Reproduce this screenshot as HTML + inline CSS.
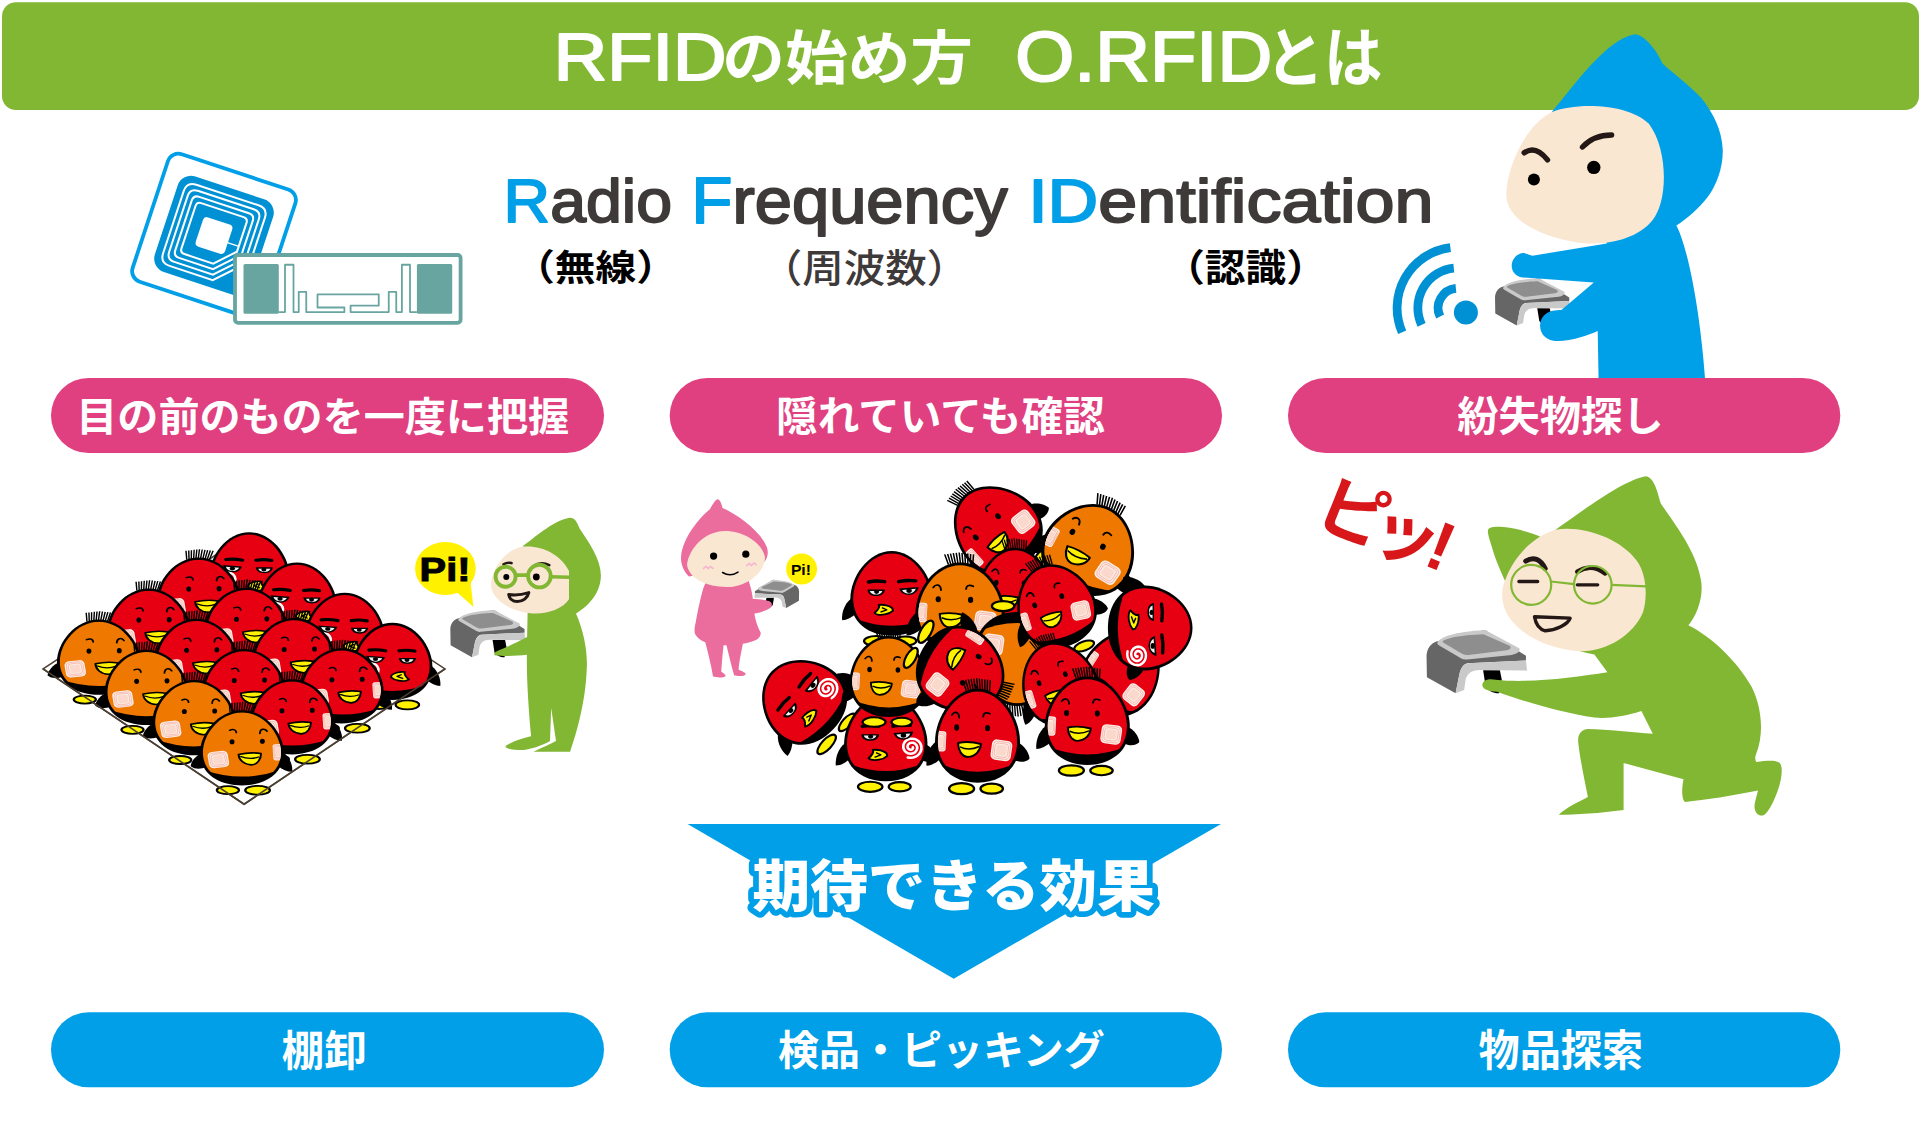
<!DOCTYPE html>
<html lang="ja"><head><meta charset="utf-8"><title>RFIDの始め方 O.RFIDとは</title>
<style>
html,body{margin:0;padding:0;background:#fff;}
body{width:1920px;height:1142px;overflow:hidden;font-family:"Liberation Sans", "Noto Sans CJK JP", sans-serif;}
svg{display:block;}
</style></head><body>
<svg width="1920" height="1142" viewBox="0 0 1920 1142">
<defs><clipPath id="eggc"><path d="M0,-47 C24,-47 42.5,-18 42.5,6 C42.5,32 24,47 0,47 C-24,47 -42.5,32 -42.5,6 C-42.5,-18 -24,-47 0,-47 Z" transform="scale(0.932,0.94)"/></clipPath><path id="tuft" d="M-14.7,-55.5 L-11.0,-44.5 M-11.9,-55.9 L-8.7,-44.5 M-9.2,-56.3 L-6.4,-44.5 M-6.5,-56.7 L-4.1,-44.5 M-3.7,-57.1 L-1.8,-44.5 M-0.9,-57.5 L0.5,-44.5 M1.8,-57.1 L2.8,-44.5 M4.5,-56.7 L5.1,-44.5 M7.3,-56.3 L7.4,-44.5 M10.0,-55.9 L9.7,-44.5 M12.8,-55.5 L12.0,-44.5 " stroke="#000" stroke-width="1.45" fill="none"/><g id="bwings"><path d="M-39,4 C-47,8 -52,20 -51,30 C-46,30 -41,27 -36,22 Z" fill="#000"/><path d="M39,6 C47,9 52,18 52,23 C48,27 42,27 36,24 Z" fill="#000"/></g><g id="bfeet"><ellipse cx="-15.9" cy="53" rx="12.5" ry="5.5" fill="#FFF100" stroke="#000" stroke-width="2.3"/><ellipse cx="14.2" cy="53" rx="11.2" ry="5" fill="#FFF100" stroke="#000" stroke-width="2.3"/></g><g id="bbody"><path d="M0,-47 C24,-47 42.5,-18 42.5,6 C42.5,32 24,47 0,47 C-24,47 -42.5,32 -42.5,6 C-42.5,-18 -24,-47 0,-47 Z" fill="#000"/><g clip-path="url(#eggc)"><path d="M-50,-60 L50,-60 L50,22 Q0,50 -50,22 Z" fill="currentColor"/></g></g><g id="bface"><g clip-path="url(#eggc)"><g transform="translate(23.9,14.6) rotate(8)"><rect x="-10.25" y="-10.25" width="20.5" height="20.5" rx="4.9" fill="#FDEDE6"/><rect x="-8.5" y="-8.5" width="17.0" height="17.0" rx="4.1" fill="none" stroke="#F3A79A" stroke-width="0.7"/><rect x="-6.8" y="-6.8" width="13.5" height="13.5" rx="3.2" fill="none" stroke="#F3A79A" stroke-width="0.7"/><rect x="-5.1" y="-5.1" width="10.2" height="10.2" rx="2.1" fill="#FAD9CC"/></g><g transform="translate(-37.5,5.5) rotate(3)"><rect x="-6.0" y="-10.25" width="12" height="20.5" rx="2.9" fill="#FDEDE6"/><rect x="-5.0" y="-8.5" width="10.0" height="17.0" rx="2.4" fill="none" stroke="#F3A79A" stroke-width="0.7"/><rect x="-4.0" y="-6.8" width="7.9" height="13.5" rx="1.9" fill="none" stroke="#F3A79A" stroke-width="0.7"/><rect x="-3.0" y="-5.1" width="6.0" height="10.2" rx="1.2" fill="#FAD9CC"/></g></g><path d="M-25.6,-20.7 C-23,-24.8 -18.5,-24 -18.2,-17.9 M5.7,-19 C6,-23.8 10,-23.2 12.5,-21.9" fill="none" stroke="#000" stroke-width="1.8" stroke-linecap="round"/><ellipse cx="-20.8" cy="-8.2" rx="2.5" ry="3.2"/><ellipse cx="10" cy="-7.6" rx="2.5" ry="3.2"/><path d="M-19.4,7.2 Q-8.5,5 3.4,8.3 C3,15 -2,21 -9.7,21.4 C-16,21 -19.4,14 -19.4,7.2 Z" fill="#FFF100" stroke="#000" stroke-width="2" stroke-linejoin="round"/><path d="M-17.6,11.2 Q-8.5,15.6 1.7,10.8" fill="none" stroke="#000" stroke-width="1.6"/><use href="#tuft"/></g><g id="sface"><path d="M-23.8,-12.6 Q-15.5,-14.5 -7.2,-12.9 M7.3,-12.9 Q16,-15 24.8,-13.8" fill="none" stroke="#000" stroke-width="3.8" stroke-linecap="round"/><path d="M-25,-4.2 L-6.8,-4.2 C-7.5,1 -11,3 -16,3 C-21,3 -24.5,1 -25,-4.2 Z" fill="#000"/><path d="M-22.5,-2.6 L-9.5,-2.6 C-10.5,0.3 -13,1.4 -16,1.4 C-19,1.4 -21.5,0.3 -22.5,-2.6 Z" fill="#f2f2f2"/><ellipse cx="-15.5" cy="-1.6" rx="2.6" ry="2.4" fill="#000"/><path d="M8,-5.3 L28,-7 C27,-1.5 23,1.5 18,1.8 C13,1.8 9,-0.5 8,-5.3 Z" fill="#000"/><path d="M10.8,-3.8 L25,-5 C24,-1.5 21,0.2 18,0.3 C15,0.3 12,-1 10.8,-3.8 Z" fill="#f2f2f2"/><ellipse cx="18" cy="-2.8" rx="2.8" ry="2.4" fill="#000"/><path d="M-17.6,21.9 C-14,19 -12,15 -13.3,13 C-8,12 -2,14 0.7,16.6 L1.5,19.3 C-1,22 -4,23 -7,23.5 C-11,24.5 -16,24 -17.6,21.9 Z" fill="#FFF100" stroke="#000" stroke-width="2" stroke-linejoin="round"/><path d="M-10,16 L-5,18.3 L-11.5,21" fill="none" stroke="#000" stroke-width="1.5" stroke-linejoin="round"/></g><g id="bplain"><g clip-path="url(#eggc)"><g transform="translate(23.9,14.6) rotate(8)"><rect x="-10.25" y="-10.25" width="20.5" height="20.5" rx="4.9" fill="#FDEDE6"/><rect x="-8.5" y="-8.5" width="17.0" height="17.0" rx="4.1" fill="none" stroke="#F3A79A" stroke-width="0.7"/><rect x="-6.8" y="-6.8" width="13.5" height="13.5" rx="3.2" fill="none" stroke="#F3A79A" stroke-width="0.7"/><rect x="-5.1" y="-5.1" width="10.2" height="10.2" rx="2.1" fill="#FAD9CC"/></g><g transform="translate(-37.5,5.5) rotate(3)"><rect x="-6.0" y="-10.25" width="12" height="20.5" rx="2.9" fill="#FDEDE6"/><rect x="-5.0" y="-8.5" width="10.0" height="17.0" rx="2.4" fill="none" stroke="#F3A79A" stroke-width="0.7"/><rect x="-4.0" y="-6.8" width="7.9" height="13.5" rx="1.9" fill="none" stroke="#F3A79A" stroke-width="0.7"/><rect x="-3.0" y="-5.1" width="6.0" height="10.2" rx="1.2" fill="#FAD9CC"/></g></g><use href="#tuft"/></g></defs>
<rect x="2" y="2.25" width="1917" height="107.75" rx="14" fill="#82B734"/>
<g transform="translate(214,235.6) rotate(18.3)"><rect x="-67.1" y="-67.1" width="134.2" height="134.2" rx="11" fill="#fff" stroke="#009FE8" stroke-width="3.8"/><rect x="-50.25" y="-50.25" width="100.5" height="100.5" rx="14" fill="#0090D4"/><path d="M-32.75,-42.75 L32.75,-42.75 Q42.75,-42.75 42.75,-32.75 L42.75,12.83 L12.83,42.75 L-32.75,42.75 Q-42.75,42.75 -42.75,32.75 L-42.75,-32.75 Q-42.75,-42.75 -32.75,-42.75 Z" fill="none" stroke="#fff" stroke-width="2"/><path d="M-29.45,-37.45 L29.45,-37.45 Q37.45,-37.45 37.45,-29.45 L37.45,11.24 L11.24,37.45 L-29.45,37.45 Q-37.45,37.45 -37.45,29.45 L-37.45,-29.45 Q-37.45,-37.45 -29.45,-37.45 Z" fill="none" stroke="#fff" stroke-width="2"/><path d="M-26.15,-32.15 L26.15,-32.15 Q32.15,-32.15 32.15,-26.15 L32.15,9.64 L9.64,32.15 L-26.15,32.15 Q-32.15,32.15 -32.15,26.15 L-32.15,-26.15 Q-32.15,-32.15 -26.15,-32.15 Z" fill="none" stroke="#fff" stroke-width="2"/><path d="M-22.35,-26.85 L22.35,-26.85 Q26.85,-26.85 26.85,-22.35 L26.85,8.06 L8.06,26.85 L-22.35,26.85 Q-26.85,26.85 -26.85,22.35 L-26.85,-22.35 Q-26.85,-26.85 -22.35,-26.85 Z" fill="none" stroke="#fff" stroke-width="2"/><rect x="-15.4" y="-15.4" width="30.8" height="30.8" rx="4" fill="#fff"/><path d="M15,2.5 L27,2.5" stroke="#fff" stroke-width="1.3"/></g><rect x="235" y="255" width="225.6" height="67.8" rx="3" fill="#fff" stroke="#68A5A1" stroke-width="3.8"/><rect x="243.5" y="264.1" width="35.3" height="49.6" rx="1.5" fill="#68A5A1"/><rect x="416.9" y="264.1" width="35.3" height="49.6" rx="1.5" fill="#68A5A1"/><polyline points="278.75,312.1 285,312.1 285,264.75 293.5,264.75 293.5,312.1 298.75,312.1 298.75,291.9 306.25,291.9 306.25,312.1 344.4,312.1 344.4,307.5 317.5,307.5 317.5,294.4 378.75,294.4 378.75,305.6 350.6,305.6 350.6,312.1 388.75,312.1 388.75,291.9 396.25,291.9 396.25,312.1 401.9,312.1 401.9,264.75 410,264.75 410,312.1 416.9,312.1" fill="none" stroke="#68A5A1" stroke-width="1.8" stroke-linejoin="round"/>
<circle cx="1465.9" cy="312.6" r="12" fill="#0090D4"/><path d="M1440.1,316.5 A19.7,19.7 0 0 1 1455.9,288.3" fill="none" stroke="#0090D4" stroke-width="8.8"/><path d="M1421.6,324.8 A39.9,39.9 0 0 1 1453.8,268.2" fill="none" stroke="#0090D4" stroke-width="8.8"/><path d="M1402.2,332.3 A60.7,60.7 0 0 1 1450.4,247.7" fill="none" stroke="#0090D4" stroke-width="8.8"/><g transform="translate(1486.4,270.7) scale(0.0556)"><path d="M915,675 L1140,675 L1165,800 L1130,985 C1060,990 980,950 950,900 Z" fill="#000"/><path d="M160,770 L155,480 C160,380 220,310 290,290 L940,135 L1490,480 L1490,545 L700,580 C640,600 610,650 590,760 L545,985 Z" fill="#666"/><path d="M300,310 C330,230 520,160 940,135 L1400,380 C1420,420 1380,450 1300,470 L700,530 C640,540 600,500 560,480 L330,345 C310,330 295,325 300,310 Z" fill="#C9C9C9"/><path d="M375,285 C400,250 600,200 920,190 L1270,345 C1300,370 1280,395 1230,405 L720,470 C680,475 650,460 620,445 L390,310 C370,300 365,295 375,285 Z" fill="#8E8E8E"/><path d="M590,760 C610,650 640,600 720,580 L1490,545 L1505,680 L870,670 C760,670 700,720 680,800 L660,940 L545,985 Z" fill="#C9C9C9"/></g><path d="M1634.3,34.3 C1643.0,34.3 1655.3,47.5 1662.5,63.4 C1673.2,73.4 1691.0,86.4 1701.7,98.4 C1713.7,113.9 1721.8,130.1 1722.7,148.9 C1723.4,165.8 1716.9,185.2 1707.5,197.2 C1699.1,207.9 1687.7,218.3 1676.4,225.4 C1687.7,246.8 1700.7,311.5 1705.6,386.1 L1598.7,386.1 L1597.7,331.0 C1587.3,335.8 1567.9,342.3 1553.3,340.7 C1542.0,339.1 1537.1,327.7 1542.0,318.0 C1546.8,309.9 1556.5,309.9 1561.4,309.9 L1593.8,282.4 L1522.5,277.5 C1509.6,275.9 1508.0,259.7 1519.3,253.9 C1524.2,251.6 1529.0,254.9 1532.3,255.8 L1606.8,243.5 L1551.7,112.3 C1574.4,84.8 1606.8,39.4 1634.3,34.6 Z" fill="#00A0E9"/><path d="M1551.7,112.3 C1574.4,102.6 1626.2,102.6 1648.9,123.7 C1668.3,149.6 1668.3,201.4 1652.1,220.8 C1635.9,240.3 1603.5,246.8 1574.4,241.9 C1535.5,235.4 1506.3,217.6 1506.3,194.9 C1506.3,172.3 1522.5,126.9 1551.7,112.3 Z" fill="#FAE7D2"/><path d="M1524.2,152.8 Q1535.5,144.7 1547.5,159.9" fill="none" stroke="#231815" stroke-width="5.4" stroke-linecap="round"/><path d="M1582.5,147.0 Q1593.8,135.0 1611.6,135.0" fill="none" stroke="#231815" stroke-width="5.4" stroke-linecap="round"/><circle cx="1533.9" cy="179.4" r="6" fill="#000"/><circle cx="1593.8" cy="167.4" r="6.7" fill="#000"/>
<rect x="51" y="378" width="553" height="75" rx="37.5" fill="#E0407F"/><rect x="51" y="1012.3" width="553" height="75" rx="37.5" fill="#009FE8"/><rect x="669.7" y="378" width="552.3" height="75" rx="37.5" fill="#E0407F"/><rect x="669.7" y="1012.3" width="552.3" height="75" rx="37.5" fill="#009FE8"/><rect x="1288" y="378" width="552.3" height="75" rx="37.5" fill="#E0407F"/><rect x="1288" y="1012.3" width="552.3" height="75" rx="37.5" fill="#009FE8"/>
<polygon points="43.1,668.9 244.1,536.3 445,668.9 244.1,804.2" fill="none" stroke="#4C4033" stroke-width="1.6"/><g transform="translate(249.3,570.8) rotate(0) scale(-0.940,0.820)" style="color:#E60012"><use href="#bwings"/><use href="#bfeet"/><use href="#bbody"/><g clip-path="url(#eggc)"><polyline transform="translate(23,11)" points="1.6,0.0 1.7,0.4 1.7,0.9 1.6,1.4 1.3,1.8 0.9,2.2 0.3,2.6 -0.3,2.7 -1.0,2.7 -1.7,2.5 -2.4,2.2 -3.0,1.6 -3.5,0.9 -3.8,0.0 -3.8,-0.9 -3.6,-1.9 -3.2,-2.8 -2.6,-3.6 -1.7,-4.3 -0.6,-4.7 0.5,-4.9 1.7,-4.8 2.9,-4.4 4.0,-3.7 4.9,-2.7 5.6,-1.5 6.0,-0.1 6.0,1.3 5.6,2.8 4.9,4.2 3.9,5.4 2.6,6.3 1.0,6.9 -0.7,7.1 -2.4,6.9 -4.1,6.3 -5.6,5.2 -6.8,3.8 -7.7,2.1 -8.1,0.3 -8.1,-1.7 -7.6,-3.7 -6.7,-5.5 -5.3,-7.1 -3.5,-8.3 -1.4,-9.1 0.8,-9.3 3.0,-9.0 5.2,-8.2 7.1,-6.8 8.7,-5.0 9.8,-2.8 10.3,-0.4 10.3,2.1 9.7,4.5 8.4,6.8 6.7,8.8 4.4,10.3 1.9,11.2 -0.8,11.5 -3.6,11.1" fill="none" stroke="#fff" stroke-width="2.7" stroke-linecap="round" stroke-linejoin="round"/></g><use href="#sface"/></g><g transform="translate(297.0,601.0) rotate(0) scale(-0.940,0.820)" style="color:#E60012"><use href="#bwings"/><use href="#bfeet"/><use href="#bbody"/><g clip-path="url(#eggc)"><polyline transform="translate(23,11)" points="1.6,0.0 1.7,0.4 1.7,0.9 1.6,1.4 1.3,1.8 0.9,2.2 0.3,2.6 -0.3,2.7 -1.0,2.7 -1.7,2.5 -2.4,2.2 -3.0,1.6 -3.5,0.9 -3.8,0.0 -3.8,-0.9 -3.6,-1.9 -3.2,-2.8 -2.6,-3.6 -1.7,-4.3 -0.6,-4.7 0.5,-4.9 1.7,-4.8 2.9,-4.4 4.0,-3.7 4.9,-2.7 5.6,-1.5 6.0,-0.1 6.0,1.3 5.6,2.8 4.9,4.2 3.9,5.4 2.6,6.3 1.0,6.9 -0.7,7.1 -2.4,6.9 -4.1,6.3 -5.6,5.2 -6.8,3.8 -7.7,2.1 -8.1,0.3 -8.1,-1.7 -7.6,-3.7 -6.7,-5.5 -5.3,-7.1 -3.5,-8.3 -1.4,-9.1 0.8,-9.3 3.0,-9.0 5.2,-8.2 7.1,-6.8 8.7,-5.0 9.8,-2.8 10.3,-0.4 10.3,2.1 9.7,4.5 8.4,6.8 6.7,8.8 4.4,10.3 1.9,11.2 -0.8,11.5 -3.6,11.1" fill="none" stroke="#fff" stroke-width="2.7" stroke-linecap="round" stroke-linejoin="round"/></g><use href="#sface"/></g><g transform="translate(198.6,595.2) rotate(0) scale(-0.985,0.800)" style="color:#E60012"><use href="#bwings"/><use href="#bfeet"/><use href="#bbody"/><use href="#bface"/></g><g transform="translate(344.7,631.2) rotate(0) scale(-0.940,0.820)" style="color:#E60012"><use href="#bwings"/><use href="#bfeet"/><use href="#bbody"/><g clip-path="url(#eggc)"><polyline transform="translate(23,11)" points="1.6,0.0 1.7,0.4 1.7,0.9 1.6,1.4 1.3,1.8 0.9,2.2 0.3,2.6 -0.3,2.7 -1.0,2.7 -1.7,2.5 -2.4,2.2 -3.0,1.6 -3.5,0.9 -3.8,0.0 -3.8,-0.9 -3.6,-1.9 -3.2,-2.8 -2.6,-3.6 -1.7,-4.3 -0.6,-4.7 0.5,-4.9 1.7,-4.8 2.9,-4.4 4.0,-3.7 4.9,-2.7 5.6,-1.5 6.0,-0.1 6.0,1.3 5.6,2.8 4.9,4.2 3.9,5.4 2.6,6.3 1.0,6.9 -0.7,7.1 -2.4,6.9 -4.1,6.3 -5.6,5.2 -6.8,3.8 -7.7,2.1 -8.1,0.3 -8.1,-1.7 -7.6,-3.7 -6.7,-5.5 -5.3,-7.1 -3.5,-8.3 -1.4,-9.1 0.8,-9.3 3.0,-9.0 5.2,-8.2 7.1,-6.8 8.7,-5.0 9.8,-2.8 10.3,-0.4 10.3,2.1 9.7,4.5 8.4,6.8 6.7,8.8 4.4,10.3 1.9,11.2 -0.8,11.5 -3.6,11.1" fill="none" stroke="#fff" stroke-width="2.7" stroke-linecap="round" stroke-linejoin="round"/></g><use href="#sface"/></g><g transform="translate(246.3,625.4) rotate(0) scale(-0.985,0.800)" style="color:#E60012"><use href="#bwings"/><use href="#bfeet"/><use href="#bbody"/><use href="#bface"/></g><g transform="translate(148.7,626.2) rotate(0) scale(-0.985,0.800)" style="color:#E60012"><use href="#bwings"/><use href="#bfeet"/><use href="#bbody"/><use href="#bface"/></g><g transform="translate(392.4,661.4) rotate(0) scale(-0.940,0.820)" style="color:#E60012"><use href="#bwings"/><use href="#bfeet"/><use href="#bbody"/><g clip-path="url(#eggc)"><polyline transform="translate(23,11)" points="1.6,0.0 1.7,0.4 1.7,0.9 1.6,1.4 1.3,1.8 0.9,2.2 0.3,2.6 -0.3,2.7 -1.0,2.7 -1.7,2.5 -2.4,2.2 -3.0,1.6 -3.5,0.9 -3.8,0.0 -3.8,-0.9 -3.6,-1.9 -3.2,-2.8 -2.6,-3.6 -1.7,-4.3 -0.6,-4.7 0.5,-4.9 1.7,-4.8 2.9,-4.4 4.0,-3.7 4.9,-2.7 5.6,-1.5 6.0,-0.1 6.0,1.3 5.6,2.8 4.9,4.2 3.9,5.4 2.6,6.3 1.0,6.9 -0.7,7.1 -2.4,6.9 -4.1,6.3 -5.6,5.2 -6.8,3.8 -7.7,2.1 -8.1,0.3 -8.1,-1.7 -7.6,-3.7 -6.7,-5.5 -5.3,-7.1 -3.5,-8.3 -1.4,-9.1 0.8,-9.3 3.0,-9.0 5.2,-8.2 7.1,-6.8 8.7,-5.0 9.8,-2.8 10.3,-0.4 10.3,2.1 9.7,4.5 8.4,6.8 6.7,8.8 4.4,10.3 1.9,11.2 -0.8,11.5 -3.6,11.1" fill="none" stroke="#fff" stroke-width="2.7" stroke-linecap="round" stroke-linejoin="round"/></g><use href="#sface"/></g><g transform="translate(294.0,655.6) rotate(0) scale(-0.985,0.800)" style="color:#E60012"><use href="#bwings"/><use href="#bfeet"/><use href="#bbody"/><use href="#bface"/></g><g transform="translate(196.4,656.4) rotate(0) scale(-0.985,0.800)" style="color:#E60012"><use href="#bwings"/><use href="#bfeet"/><use href="#bbody"/><use href="#bface"/></g><g transform="translate(98.8,657.2) rotate(0) scale(-0.985,0.800)" style="color:#EE7800"><use href="#bwings"/><use href="#bfeet"/><use href="#bbody"/><use href="#bface"/></g><g transform="translate(341.7,685.8) rotate(0) scale(-0.985,0.800)" style="color:#E60012"><use href="#bwings"/><use href="#bfeet"/><use href="#bbody"/><use href="#bface"/></g><g transform="translate(244.1,686.6) rotate(0) scale(-0.985,0.800)" style="color:#E60012"><use href="#bwings"/><use href="#bfeet"/><use href="#bbody"/><use href="#bface"/></g><g transform="translate(146.5,687.4) rotate(0) scale(-0.985,0.800)" style="color:#EE7800"><use href="#bwings"/><use href="#bfeet"/><use href="#bbody"/><use href="#bface"/></g><g transform="translate(291.8,716.8) rotate(0) scale(-0.985,0.800)" style="color:#E60012"><use href="#bwings"/><use href="#bfeet"/><use href="#bbody"/><use href="#bface"/></g><g transform="translate(194.2,717.6) rotate(0) scale(-0.985,0.800)" style="color:#EE7800"><use href="#bwings"/><use href="#bfeet"/><use href="#bbody"/><use href="#bface"/></g><g transform="translate(241.9,747.8) rotate(0) scale(-0.985,0.800)" style="color:#EE7800"><use href="#bwings"/><use href="#bfeet"/><use href="#bbody"/><use href="#bface"/></g><polyline points="43.1,668.9 244.1,804.2 445,668.9" fill="none" stroke="#4C4033" stroke-width="1.6"/><path d="M455.5,591.0 L473.3,606.8 L470.4,580.3 Z" fill="#FFF100"/><ellipse cx="445.4" cy="568.5" rx="30.3" ry="26.6" fill="#FFF100"/><g transform="translate(441.7,602.4) scale(0.0556)"><path d="M915,675 L1140,675 L1165,800 L1130,985 C1060,990 980,950 950,900 Z" fill="#000"/><path d="M160,770 L155,480 C160,380 220,310 290,290 L940,135 L1490,480 L1490,545 L700,580 C640,600 610,650 590,760 L545,985 Z" fill="#666"/><path d="M300,310 C330,230 520,160 940,135 L1400,380 C1420,420 1380,450 1300,470 L700,530 C640,540 600,500 560,480 L330,345 C310,330 295,325 300,310 Z" fill="#C9C9C9"/><path d="M375,285 C400,250 600,200 920,190 L1270,345 C1300,370 1280,395 1230,405 L720,470 C680,475 650,460 620,445 L390,310 C370,300 365,295 375,285 Z" fill="#8E8E8E"/><path d="M590,760 C610,650 640,600 720,580 L1490,545 L1505,680 L870,670 C760,670 700,720 680,800 L660,940 L545,985 Z" fill="#C9C9C9"/></g><path d="M570.1,517.7 C574.9,517.7 577.2,522.4 579.6,528.4 C589.0,542.5 600.9,559.1 600.9,575.6 C600.9,592.2 589.0,606.3 576.0,613.4 C584.3,632.3 587.9,653.6 586.7,670.1 C585.5,700.9 577.2,731.6 570.1,751.7 L533.5,751.7 C541.8,748.1 551.2,743.4 556.0,741.0 L551.2,707.9 L550.0,741.0 C541.8,745.7 527.6,750.9 518.1,750.0 C508.7,749.3 504.0,747.6 505.9,745.7 C513.4,741.0 525.2,737.5 531.1,736.3 C528.8,712.7 526.4,677.2 526.9,654.8 C518.1,656.0 504.0,656.4 495.7,655.5 C493.3,654.8 494.0,652.4 496.9,651.2 C506.3,647.7 518.1,641.8 527.1,637.1 L527.6,613.4 L522.9,546.1 C537.1,535.4 556.0,518.9 570.1,517.7 Z" fill="#82B734"/><path d="M522.9,546.6 C541.8,544.9 560.7,554.3 569.0,570.9 L569.0,599.2 C563.0,608.7 546.5,614.6 532.3,613.4 C511.1,612.2 491.0,599.2 491.0,585.1 C491.0,570.9 504.0,549.6 522.9,546.6 Z" fill="#FAE7D2"/><path d="M503.5,564.3 Q507.5,561.9 511.5,563.1" fill="none" stroke="#231815" stroke-width="2.6" stroke-linecap="round"/><path d="M533.0,566.6 Q540.6,561.0 549.3,565.2" fill="none" stroke="#231815" stroke-width="2.6" stroke-linecap="round"/><circle cx="506.3" cy="577.0" r="3" fill="#000"/><circle cx="536.3" cy="577.0" r="3.4" fill="#000"/><circle cx="505.6" cy="576.8" r="10" fill="none" stroke="#82B734" stroke-width="3.9"/><circle cx="539.4" cy="576.1" r="11.3" fill="none" stroke="#82B734" stroke-width="3.9"/><path d="M515.8,575.1 L528.1,575.1 M550.8,576.8 L569.2,577.3" fill="none" stroke="#82B734" stroke-width="3.6"/><path d="M508.7,594.5 C515.8,595.7 522.9,594.5 528.8,592.6 C527.6,598.1 522.9,601.6 517.4,601.6 C512.2,601.6 509.2,598.1 508.7,594.5 Z" fill="#FAE7D2" stroke="#231815" stroke-width="3" stroke-linejoin="round"/>
<g transform="translate(996.2,528.5) rotate(-45) scale(1.000,0.980)" style="color:#E60012"><use href="#bwings"/><use href="#bfeet"/><use href="#bbody"/><use href="#bface"/></g><g transform="translate(1015.0,590.1) rotate(0) scale(0.900,0.900)" style="color:#E60012"><use href="#bwings"/><use href="#bfeet"/><use href="#bbody"/><use href="#bface"/></g><g transform="translate(1089.8,548.8) rotate(25) scale(1.100,0.970)" style="color:#EE7800"><use href="#bwings"/><use href="#bfeet"/><use href="#bbody"/><use href="#bface"/></g><g transform="translate(891.6,593.3) rotate(0) scale(0.970,0.900)" style="color:#E60012"><use href="#bwings"/><use href="#bfeet"/><use href="#bbody"/><use href="#sface"/></g><g transform="translate(960.1,607.1) rotate(0) scale(1.050,0.950)" style="color:#EE7800"><use href="#bwings"/><use href="#bfeet"/><use href="#bbody"/><use href="#bface"/></g><g transform="translate(1017.3,659.1) rotate(180) scale(1.000,1.000)" style="color:#EE7800"><use href="#bwings"/><use href="#bfeet"/><use href="#bbody"/><use href="#bplain"/></g><g transform="translate(1055.4,605.7) rotate(-20) scale(0.930,0.900)" style="color:#E60012"><use href="#bwings"/><use href="#bfeet"/><use href="#bbody"/><use href="#bface"/></g><g transform="translate(1122.0,672.0) rotate(30) scale(0.900,0.950)" style="color:#E60012"><use href="#bbody"/><use href="#bplain"/></g><g transform="translate(1150.2,627.9) rotate(90) scale(1.000,0.900)" style="color:#E60012"><use href="#bwings"/><use href="#bbody"/><g clip-path="url(#eggc)"><polyline transform="translate(27,14)" points="1.6,0.0 1.7,0.4 1.7,0.9 1.6,1.4 1.3,1.8 0.9,2.2 0.3,2.6 -0.3,2.7 -1.0,2.7 -1.7,2.5 -2.4,2.2 -3.0,1.6 -3.5,0.9 -3.8,0.0 -3.8,-0.9 -3.6,-1.9 -3.2,-2.8 -2.6,-3.6 -1.7,-4.3 -0.6,-4.7 0.5,-4.9 1.7,-4.8 2.9,-4.4 4.0,-3.7 4.9,-2.7 5.6,-1.5 6.0,-0.1 6.0,1.3 5.6,2.8 4.9,4.2 3.9,5.4 2.6,6.3 1.0,6.9 -0.7,7.1 -2.4,6.9 -4.1,6.3 -5.6,5.2 -6.8,3.8 -7.7,2.1 -8.1,0.3 -8.1,-1.7 -7.6,-3.7 -6.7,-5.5 -5.3,-7.1 -3.5,-8.3 -1.4,-9.1 0.8,-9.3 3.0,-9.0 5.2,-8.2 7.1,-6.8 8.7,-5.0 9.8,-2.8 10.3,-0.4 10.3,2.1 9.7,4.5 8.4,6.8 6.7,8.8 4.4,10.3 1.9,11.2 -0.8,11.5 -3.6,11.1" fill="none" stroke="#fff" stroke-width="2.7" stroke-linecap="round" stroke-linejoin="round"/></g><use href="#sface"/></g><g transform="translate(802.6,700.2) rotate(-47) scale(1.000,0.900)" style="color:#E60012"><use href="#bwings"/><use href="#bfeet"/><use href="#bbody"/><g clip-path="url(#eggc)"><polyline transform="translate(25,11)" points="1.6,0.0 1.7,0.4 1.7,0.9 1.6,1.4 1.3,1.8 0.9,2.2 0.3,2.6 -0.3,2.7 -1.0,2.7 -1.7,2.5 -2.4,2.2 -3.0,1.6 -3.5,0.9 -3.8,0.0 -3.8,-0.9 -3.6,-1.9 -3.2,-2.8 -2.6,-3.6 -1.7,-4.3 -0.6,-4.7 0.5,-4.9 1.7,-4.8 2.9,-4.4 4.0,-3.7 4.9,-2.7 5.6,-1.5 6.0,-0.1 6.0,1.3 5.6,2.8 4.9,4.2 3.9,5.4 2.6,6.3 1.0,6.9 -0.7,7.1 -2.4,6.9 -4.1,6.3 -5.6,5.2 -6.8,3.8 -7.7,2.1 -8.1,0.3 -8.1,-1.7 -7.6,-3.7 -6.7,-5.5 -5.3,-7.1 -3.5,-8.3 -1.4,-9.1 0.8,-9.3 3.0,-9.0 5.2,-8.2 7.1,-6.8 8.7,-5.0 9.8,-2.8 10.3,-0.4 10.3,2.1 9.7,4.5 8.4,6.8 6.7,8.8 4.4,10.3 1.9,11.2 -0.8,11.5 -3.6,11.1" fill="none" stroke="#fff" stroke-width="2.7" stroke-linecap="round" stroke-linejoin="round"/></g><use href="#sface"/></g><g transform="translate(885.8,738.0) rotate(0) scale(0.980,0.920)" style="color:#E60012"><use href="#bwings"/><use href="#bfeet"/><use href="#bbody"/><g clip-path="url(#eggc)"><polyline transform="translate(26,10)" points="1.6,0.0 1.7,0.4 1.7,0.9 1.6,1.4 1.3,1.8 0.9,2.2 0.3,2.6 -0.3,2.7 -1.0,2.7 -1.7,2.5 -2.4,2.2 -3.0,1.6 -3.5,0.9 -3.8,0.0 -3.8,-0.9 -3.6,-1.9 -3.2,-2.8 -2.6,-3.6 -1.7,-4.3 -0.6,-4.7 0.5,-4.9 1.7,-4.8 2.9,-4.4 4.0,-3.7 4.9,-2.7 5.6,-1.5 6.0,-0.1 6.0,1.3 5.6,2.8 4.9,4.2 3.9,5.4 2.6,6.3 1.0,6.9 -0.7,7.1 -2.4,6.9 -4.1,6.3 -5.6,5.2 -6.8,3.8 -7.7,2.1 -8.1,0.3 -8.1,-1.7 -7.6,-3.7 -6.7,-5.5 -5.3,-7.1 -3.5,-8.3 -1.4,-9.1 0.8,-9.3 3.0,-9.0 5.2,-8.2 7.1,-6.8 8.7,-5.0 9.8,-2.8 10.3,-0.4 10.3,2.1 9.7,4.5 8.4,6.8 6.7,8.8 4.4,10.3 1.9,11.2 -0.8,11.5 -3.6,11.1" fill="none" stroke="#fff" stroke-width="2.7" stroke-linecap="round" stroke-linejoin="round"/></g><use href="#sface"/></g><g transform="translate(888.7,676.5) rotate(0) scale(0.920,0.860)" style="color:#EE7800"><use href="#bwings"/><use href="#bfeet"/><use href="#bbody"/><use href="#bface"/></g><g transform="translate(961.5,670.7) rotate(120) scale(1.000,0.950)" style="color:#E60012"><use href="#bwings"/><use href="#bfeet"/><use href="#bbody"/><use href="#bface"/></g><g transform="translate(1059.2,683.7) rotate(-20) scale(0.900,0.900)" style="color:#E60012"><use href="#bwings"/><use href="#bfeet"/><use href="#bbody"/><use href="#bface"/></g><g transform="translate(1087.3,720.7) rotate(0) scale(1.000,0.940)" style="color:#E60012"><use href="#bwings"/><use href="#bfeet"/><use href="#bbody"/><use href="#bface"/></g><g transform="translate(977.5,735.7) rotate(0) scale(1.000,1.000)" style="color:#E60012"><use href="#bwings"/><use href="#bfeet"/><use href="#bbody"/><use href="#bface"/></g><circle cx="801.6" cy="569.0" r="15.4" fill="#FFF100"/><g transform="translate(804.23,575.3) scale(-0.0331,0.0331)"><path d="M915,675 L1140,675 L1165,800 L1130,985 C1060,990 980,950 950,900 Z" fill="#000"/><path d="M160,770 L155,480 C160,380 220,310 290,290 L940,135 L1490,480 L1490,545 L700,580 C640,600 610,650 590,760 L545,985 Z" fill="#666"/><path d="M300,310 C330,230 520,160 940,135 L1400,380 C1420,420 1380,450 1300,470 L700,530 C640,540 600,500 560,480 L330,345 C310,330 295,325 300,310 Z" fill="#C9C9C9"/><path d="M375,285 C400,250 600,200 920,190 L1270,345 C1300,370 1280,395 1230,405 L720,470 C680,475 650,460 620,445 L390,310 C370,300 365,295 375,285 Z" fill="#8E8E8E"/><path d="M590,760 C610,650 640,600 720,580 L1490,545 L1505,680 L870,670 C760,670 700,720 680,800 L660,940 L545,985 Z" fill="#C9C9C9"/></g><path d="M703.4,587.9 L709.1,574.4 L746.7,572.5 L749.6,584.1 C751.5,589.8 752.5,595.6 752.9,599.1 C758.3,599.1 765.0,599.9 768.9,601.0 C772.7,602.4 772.7,606.2 769.8,608.2 C765.0,611.0 758.3,613.0 754.4,613.4 C755.4,620.7 758.3,628.4 760.6,632.2 C761.2,636.1 758.3,639.0 755.4,640.3 C750.6,642.3 746.7,643.4 742.9,643.8 C740.9,653.4 739.0,663.1 738.6,669.8 C741.9,671.2 745.8,672.7 745.8,674.3 C744.8,676.6 737.1,676.2 734.2,675.6 C731.3,665.0 728.4,653.4 726.5,645.3 L723.6,645.3 C722.6,653.4 721.7,665.0 721.3,671.8 C723.6,673.1 725.9,674.6 725.5,676.2 C723.6,678.1 715.9,677.5 713.0,676.6 C711.1,665.0 708.2,653.4 705.3,642.3 C701.4,640.9 697.6,638.4 695.7,635.1 C693.7,632.2 694.7,626.5 695.7,622.6 C697.6,611.0 700.5,597.6 703.4,587.9 Z" fill="#EA6D9D"/><path d="M717.8,499.3 C719.7,499.3 721.3,503.1 722.6,507.9 C737.1,514.7 760.2,530.1 767.0,547.5 C768.9,554.2 767.0,559.0 764.1,561.9 L688.9,576.4 C683.1,570.6 680.2,562.9 681.2,555.2 C683.1,537.8 698.5,518.5 710.1,508.9 C713.0,504.1 715.5,499.3 717.8,499.3 Z" fill="#EA6D9D"/><path d="M687.0,564.8 C688.9,547.5 706.3,531.1 724.6,531.1 C744.8,531.1 762.1,543.6 765.0,557.1 C765.0,572.5 746.7,587.0 726.5,587.0 C706.3,587.0 688.9,578.3 687.0,564.8 Z" fill="#FAE7D2"/><circle cx="713.6" cy="556.1" r="3.6" fill="#000"/><circle cx="745.8" cy="554.2" r="3.6" fill="#000"/><path d="M722.6,572.5 Q730.3,577.3 738.0,572.1" fill="none" stroke="#000" stroke-width="1.6" stroke-linecap="round"/><path d="M703.4,568.6 L705.9,566.3 L708.2,568.6 L710.5,566.3 L713.0,568.3" fill="none" stroke="#F5B5D0" stroke-width="1.5" stroke-linecap="round" stroke-linejoin="round"/><path d="M746.7,565.8 L749.2,563.3 L751.5,565.6 L753.9,562.9 L756.4,564.8" fill="none" stroke="#F5B5D0" stroke-width="1.5" stroke-linecap="round" stroke-linejoin="round"/>
<g transform="translate(1415,620) scale(0.07446)"><path d="M915,675 L1140,675 L1165,800 L1130,985 C1060,990 980,950 950,900 Z" fill="#000"/><path d="M160,770 L155,480 C160,380 220,310 290,290 L940,135 L1490,480 L1490,545 L700,580 C640,600 610,650 590,760 L545,985 Z" fill="#666"/><path d="M300,310 C330,230 520,160 940,135 L1400,380 C1420,420 1380,450 1300,470 L700,530 C640,540 600,500 560,480 L330,345 C310,330 295,325 300,310 Z" fill="#C9C9C9"/><path d="M375,285 C400,250 600,200 920,190 L1270,345 C1300,370 1280,395 1230,405 L720,470 C680,475 650,460 620,445 L390,310 C370,300 365,295 375,285 Z" fill="#8E8E8E"/><path d="M590,760 C610,650 640,600 720,580 L1490,545 L1505,680 L870,670 C760,670 700,720 680,800 L660,940 L545,985 Z" fill="#C9C9C9"/></g><path d="M1646.3,476.2 C1654.4,477.8 1657.6,492.4 1660.9,503.7 C1675.4,524.8 1698.1,554.0 1701.4,583.1 C1703.0,599.3 1696.5,615.5 1688.4,625.3 C1711.1,636.6 1737.0,660.9 1751.6,686.8 C1761.3,706.3 1764.5,732.2 1756.4,753.3 C1754.8,756.5 1754.8,759.7 1756.4,762.0 C1766.2,760.7 1775.9,759.7 1779.8,763.0 C1784.0,767.8 1780.8,784.0 1775.9,795.4 C1772.7,803.5 1767.8,813.2 1762.9,815.5 C1758.1,816.4 1753.2,811.6 1754.8,803.5 C1755.8,798.6 1757.1,793.8 1758.1,790.5 C1733.8,795.4 1704.6,800.2 1685.2,801.9 C1681.9,800.2 1681.3,790.5 1683.5,779.2 L1623.6,763.0 L1623.6,810.0 C1600.9,813.2 1575.0,814.8 1558.8,814.8 C1565.3,808.3 1578.2,801.9 1587.9,797.0 C1584.7,780.8 1579.8,758.1 1578.2,741.9 C1577.6,733.8 1581.5,729.6 1587.9,729.0 C1607.4,729.6 1633.3,732.2 1652.8,733.8 L1641.4,711.1 C1626.8,716.0 1607.4,719.2 1594.4,717.6 C1562.0,712.8 1523.1,701.4 1497.2,691.7 C1487.5,691.7 1481.0,688.5 1482.6,683.6 C1484.3,678.7 1490.7,678.7 1495.6,679.7 C1529.6,683.6 1575.0,677.1 1607.4,672.2 L1594.4,654.4 C1575.0,651.2 1552.3,641.5 1539.3,631.7 L1506.9,584.8 C1503.0,576.7 1497.2,563.7 1494.0,554.0 C1490.7,542.6 1486.8,532.9 1488.1,529.7 C1489.4,526.4 1497.2,526.4 1503.7,527.1 C1518.3,528.7 1531.2,532.9 1542.6,537.8 L1555.5,529.7 C1581.5,511.8 1623.6,479.4 1646.3,476.2 Z" fill="#82B734"/><path d="M1555.5,529.7 C1581.5,524.8 1620.3,537.8 1636.6,560.5 C1646.3,573.4 1647.9,596.1 1643.0,612.3 C1633.3,635.0 1607.4,651.2 1581.5,651.2 C1552.3,650.5 1523.1,636.6 1510.2,618.8 C1500.5,605.8 1500.5,589.6 1505.3,579.9 C1513.4,557.2 1532.9,536.2 1555.5,529.7 Z" fill="#FAE7D2"/><path d="M1525.7,561.1 Q1537.7,554.0 1545.2,568.6" fill="none" stroke="#231815" stroke-width="5" stroke-linecap="round"/><path d="M1577.3,571.8 Q1591.2,563.0 1605.1,573.4" fill="none" stroke="#231815" stroke-width="4.6" stroke-linecap="round"/><path d="M1518.9,581.5 L1537.7,581.5 M1577.3,584.8 L1597.7,584.8" fill="none" stroke="#231815" stroke-width="3.3" stroke-linecap="round"/><circle cx="1531.2" cy="584.8" r="20" fill="none" stroke="#82B734" stroke-width="2.2"/><circle cx="1592.8" cy="584.8" r="18.8" fill="none" stroke="#82B734" stroke-width="2.2"/><path d="M1551.0,581.5 L1574.0,584.1 M1611.6,584.8 L1646.3,586.4" fill="none" stroke="#82B734" stroke-width="2.2"/><path d="M1534.5,616.8 L1570.1,618.1 C1567.9,624.6 1555.5,630.4 1545.2,630.8 C1538.7,629.2 1535.5,622.7 1534.5,616.8 Z" fill="#FAE7D2" stroke="#231815" stroke-width="3.4" stroke-linejoin="round"/><text transform="translate(1312,523) rotate(22)" font-size="69" font-family='"Liberation Sans", "Noto Sans CJK JP", sans-serif' font-weight="700" fill="#D7171A">ピ<tspan dx="-12">ッ</tspan><tspan dx="-9" dy="-3">!</tspan></text>
<polygon points="687.5,824 1221,824 953.75,978.75" fill="#009FE8"/>
<text transform="translate(553.82,80.33) scale(0.7399,0.6667)" font-size="100" font-family='"Liberation Sans", "Noto Sans CJK JP", sans-serif' font-weight="400" fill="#fff" stroke="#fff" stroke-width="3" stroke-linejoin="round">RFID</text>
<text transform="translate(722.24,79.17) scale(0.6272,0.5833)" font-size="100" font-family='"Liberation Sans", "Noto Sans CJK JP", sans-serif' font-weight="700" fill="#fff" >の始め方</text>
<text transform="translate(1015.23,81.09) scale(0.7583,0.7055)" font-size="100" font-family='"Liberation Sans", "Noto Sans CJK JP", sans-serif' font-weight="400" fill="#fff" stroke="#fff" stroke-width="3" stroke-linejoin="round">O.RFID</text>
<text transform="translate(1265.48,80.51) scale(0.5843,0.6471)" font-size="100" font-family='"Liberation Sans", "Noto Sans CJK JP", sans-serif' font-weight="700" fill="#fff" >とは</text>
<text transform="translate(503.59,222.48) scale(0.6448,0.6112)" font-size="100" font-family='"Liberation Sans", "Noto Sans CJK JP", sans-serif' font-weight="400" fill="#3E3A39" stroke="#3E3A39" stroke-width="3" stroke-linejoin="round"><tspan fill="#009FE8" stroke="#009FE8">R</tspan>adio</text>
<text transform="translate(691.57,223.10) scale(0.6692,0.6550)" font-size="100" font-family='"Liberation Sans", "Noto Sans CJK JP", sans-serif' font-weight="400" fill="#3E3A39" stroke="#3E3A39" stroke-width="3" stroke-linejoin="round"><tspan fill="#009FE8" stroke="#009FE8">F</tspan>requency</text>
<text transform="translate(1028.14,222.48) scale(0.7013,0.6112)" font-size="100" font-family='"Liberation Sans", "Noto Sans CJK JP", sans-serif' font-weight="400" fill="#3E3A39" stroke="#3E3A39" stroke-width="3" stroke-linejoin="round"><tspan fill="#009FE8" stroke="#009FE8">ID</tspan>entification</text>
<text transform="translate(514.16,281.35) scale(0.4067,0.3646)" font-size="100" font-family='"Liberation Sans", "Noto Sans CJK JP", sans-serif' font-weight="700" fill="#000" >（無線）</text>
<text transform="translate(760.79,282.11) scale(0.4148,0.3895)" font-size="100" font-family='"Liberation Sans", "Noto Sans CJK JP", sans-serif' font-weight="500" fill="#3E3A39" >（周波数）</text>
<text transform="translate(1164.16,281.25) scale(0.4067,0.3750)" font-size="100" font-family='"Liberation Sans", "Noto Sans CJK JP", sans-serif' font-weight="700" fill="#000" >（認識）</text>
<text transform="translate(76.25,431.00) scale(0.4108,0.4000)" font-size="100" font-family='"Liberation Sans", "Noto Sans CJK JP", sans-serif' font-weight="700" fill="#fff" >目の前のものを一度に把握</text>
<text transform="translate(776.08,431.36) scale(0.4167,0.4043)" font-size="100" font-family='"Liberation Sans", "Noto Sans CJK JP", sans-serif' font-weight="700" fill="#fff" >隠れていても確認</text>
<text transform="translate(1457.17,431.36) scale(0.4131,0.4043)" font-size="100" font-family='"Liberation Sans", "Noto Sans CJK JP", sans-serif' font-weight="700" fill="#fff" >紛失物探し</text>
<text transform="translate(752.60,905.93) scale(0.5764,0.5573)" font-size="100" font-family='"Liberation Sans", "Noto Sans CJK JP", sans-serif' font-weight="900" fill="#fff" stroke="#009FE8" stroke-width="20" stroke-linejoin="round" paint-order="stroke">期待できる効果</text>
<text transform="translate(281.65,1066.21) scale(0.4267,0.4211)" font-size="100" font-family='"Liberation Sans", "Noto Sans CJK JP", sans-serif' font-weight="700" fill="#fff" >棚卸</text>
<text transform="translate(777.93,1064.95) scale(0.4102,0.4052)" font-size="100" font-family='"Liberation Sans", "Noto Sans CJK JP", sans-serif' font-weight="700" fill="#fff" >検品・ピッキング</text>
<text transform="translate(1478.58,1065.65) scale(0.4112,0.4277)" font-size="100" font-family='"Liberation Sans", "Noto Sans CJK JP", sans-serif' font-weight="700" fill="#fff" >物品探索</text>
<text transform="translate(419.61,581.00) scale(0.3982,0.3233)" font-size="100" font-family='"Liberation Sans", "Noto Sans CJK JP", sans-serif' font-weight="700" fill="#000" stroke="#000" stroke-width="3">Pi!</text>
<text transform="translate(790.90,574.80) scale(0.1568,0.1507)" font-size="100" font-family='"Liberation Sans", "Noto Sans CJK JP", sans-serif' font-weight="700" fill="#000" >Pi!</text>
</svg>
</body></html>
